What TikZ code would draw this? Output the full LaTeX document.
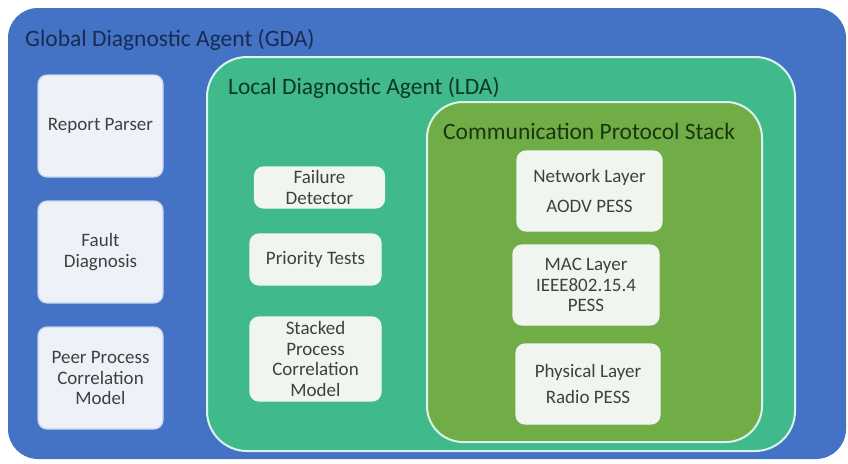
\documentclass[tikz,border=0pt]{standalone}
\usepackage{fontspec}
\setmainfont{Carlito}
\definecolor{gdablue}{RGB}{68,114,196}
\definecolor{ldagreen}{RGB}{64,186,138}
\definecolor{cpsgreen}{RGB}{112,173,71}
\definecolor{boxfill}{RGB}{238,241,248}
\definecolor{boxfillg}{RGB}{241,245,240}
\definecolor{boxedge}{RGB}{196,212,238}
\definecolor{frameedge}{RGB}{220,242,238}
\definecolor{gdatext}{RGB}{24,44,84}
\definecolor{ldatext}{RGB}{14,56,36}
\definecolor{cpstext}{RGB}{26,54,14}
\definecolor{bodytext}{RGB}{64,64,64}
\begin{document}
\begin{tikzpicture}[x=1pt,y=-1pt,
  gdabox/.style={fill=gdablue, draw=none, rounded corners=30},
  ldabox/.style={fill=ldagreen, draw=frameedge, line width=2pt, rounded corners=40},
  cpsbox/.style={fill=cpsgreen, draw=frameedge, line width=2pt, rounded corners=36},
  titletext/.style={font=\fontsize{23.5}{26}\selectfont, anchor=west, inner sep=0pt},
  partbox/.style={draw=boxedge, line width=1.2pt, fill=boxfill, rounded corners=9,
    align=center, text=bodytext, font=\fontsize{19}{20.5}\selectfont, inner sep=2pt},
  layerbox/.style={partbox, fill=boxfillg, draw=boxfillg}
]
\useasboundingbox (0,0) rectangle (848,463);
\fill[white] (0,0) rectangle (848,463);

% nested agent frames
\node[gdabox, minimum width=838, minimum height=451] (gda) at (427,233.5) {};
\node[titletext, text=gdatext] (gdat) at (25,40) {Global Diagnostic Agent (GDA)};

\node[ldabox, minimum width=588, minimum height=394] (lda) at (501,254) {};
\node[titletext, text=ldatext] (ldat) at (228,88) {Local Diagnostic Agent (LDA)};

\node[cpsbox, minimum width=335, minimum height=340] (cps) at (594.5,272) {};
\node[titletext, text=cpstext] (cpst) at (443,131) {Communication Protocol Stack};

% GDA components
\node[partbox, minimum width=125, minimum height=102] (rp) at (100.5,126) {Report Parser};
\node[partbox, minimum width=125, minimum height=102] (fd) at (100.5,252) {Fault\\Diagnosis};
\node[partbox, minimum width=125, minimum height=102] (pp) at (100.5,378) {Peer Process\\Correlation\\Model};

% LDA components
\node[layerbox, minimum width=130, minimum height=41] (fdet) at (319.5,187.5) {Failure\\Detector};
\node[layerbox, minimum width=131, minimum height=51] (pt) at (315.5,259.5) {Priority Tests};
\node[layerbox, minimum width=131, minimum height=84] (sp) at (315.5,359) {Stacked\\Process\\Correlation\\Model};

% protocol layers
\node[layerbox, minimum width=145, minimum height=80] (net) at (589.5,191) {Network Layer\\[10pt]AODV PESS};
\node[layerbox, minimum width=146, minimum height=80] (mac) at (586,285) {MAC Layer\\IEEE802.15.4\\PESS};
\node[layerbox, minimum width=144, minimum height=80] (phy) at (588,384) {Physical Layer\\[6pt]Radio PESS};
\end{tikzpicture}
\end{document}
